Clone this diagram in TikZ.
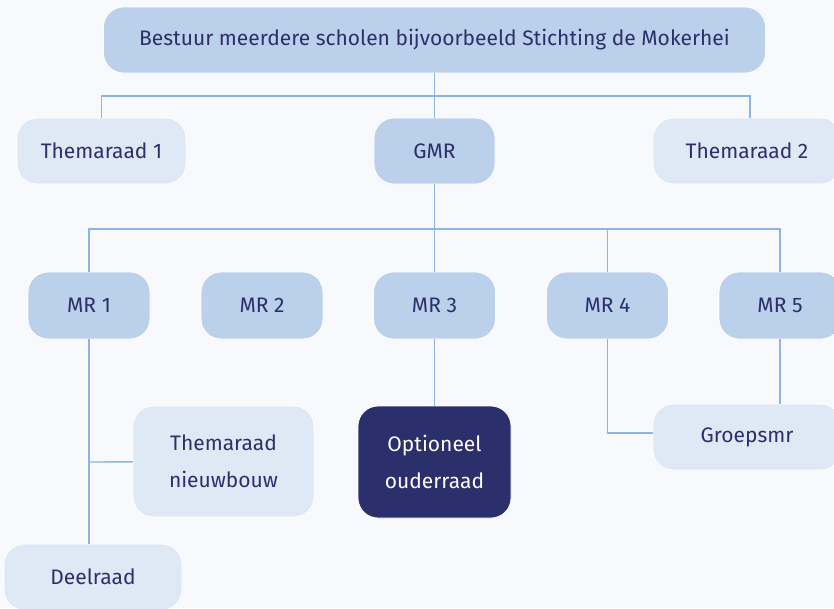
\documentclass[tikz,border=0pt]{standalone}
\usepackage{fontspec}
\setmainfont{Fira Sans}
\definecolor{bgcol}{HTML}{F7F9FD}
\definecolor{midcol}{HTML}{BBD0EA}
\definecolor{lightcol}{HTML}{DFE9F5}
\definecolor{navy}{HTML}{2B2F6B}
\definecolor{linecol}{HTML}{8DB4E2}

\begin{document}
\begin{tikzpicture}[x=1pt,y=-1pt,
    box/.style={rounded corners=20pt,draw=white,line width=.8pt,text=navy,
      align=center,inner sep=0pt,font=\fontsize{21}{37}\selectfont},
    midbox/.style={box,fill=midcol},
    lightbox/.style={box,fill=lightcol},
    darkbox/.style={box,fill=navy,text=white},
    conn/.style={draw=linecol,line width=1.4pt}]
      \fill[bgcol] (0,0) rectangle (834,608);
      \useasboundingbox (0,0) rectangle (834,608);
      \node[midbox,minimum width=662pt,minimum height=66pt] (top) at (434.5,40) {Bestuur meerdere scholen bijvoorbeeld Stichting de Mokerhei};
      \node[lightbox,minimum width=169pt,minimum height=66pt] (tr1) at (101.5,151) {Themaraad 1};
      \node[midbox,minimum width=121pt,minimum height=66pt] (gmr) at (434.5,151) {GMR};
      \node[lightbox,minimum width=188pt,minimum height=66pt] (tr2) at (747,151) {Themaraad 2};
      \node[midbox,minimum width=122pt,minimum height=67pt] (mr1) at (89,305.5) {MR 1};
      \node[midbox,minimum width=122pt,minimum height=67pt] (mr2) at (262,305.5) {MR 2};
      \node[midbox,minimum width=122pt,minimum height=67pt] (mr3) at (434.5,305.5) {MR 3};
      \node[midbox,minimum width=122pt,minimum height=67pt] (mr4) at (607.5,305.5) {MR 4};
      \node[midbox,minimum width=122pt,minimum height=67pt] (mr5) at (780,305.5) {MR 5};
      \node[lightbox,minimum width=181pt,minimum height=111pt] (nieuw) at (223.5,461.5) {Themaraad\\nieuwbouw};
      \node[darkbox,minimum width=153pt,minimum height=112pt] (opt) at (434.5,462) {Optioneel\\ouderraad};
      \node[lightbox,minimum width=188pt,minimum height=66pt] (groep) at (747,437) {Groepsmr};
      \node[lightbox,minimum width=178pt,minimum height=66pt] (deel) at (93,577) {Deelraad};
      \coordinate (bus1) at (434.5,96);
      \coordinate (bus2) at (434.5,229);
      \coordinate (tak) at (89,462);
      \draw[conn] (top) -- (gmr);
      \draw[conn] (tr1) |- (bus1) -| ([xshift=3pt]tr2.north);
      \draw[conn] (gmr) -- (bus2);
      \draw[conn] (mr1) |- (bus2) -| (mr5);
      \draw[conn] (bus2 -| mr3) -- (mr3);
      \draw[conn] (bus2 -| mr4) -- (mr4);
      \draw[conn] (mr1.south) -- (mr1.south |- deel.north);
      \draw[conn] (tak) -- (nieuw);
      \draw[conn] (mr3) -- (opt);
      \draw[conn] (mr4) |- ([yshift=4pt]groep.west);
      \draw[conn] (mr5.south) -- (mr5.south |- groep.north);
    \end{tikzpicture}
\end{document}
